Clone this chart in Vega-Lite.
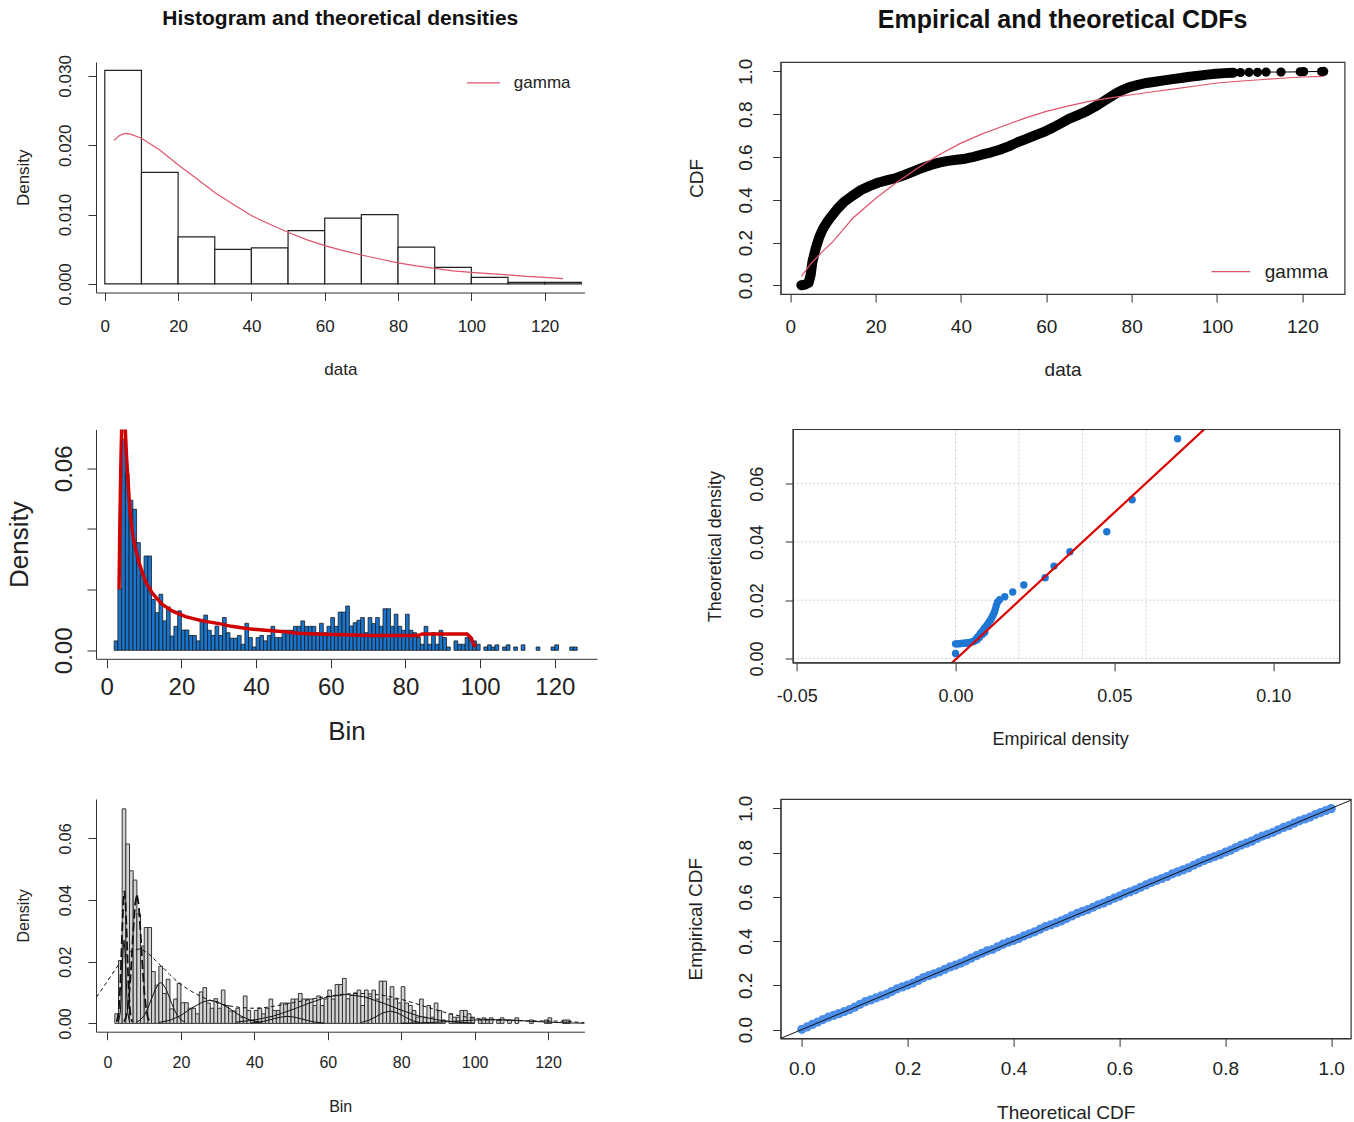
{
"$schema": "https://vega.github.io/schema/vega-lite/v6.json",
"background": "white",
"padding": {"left": 6, "top": 7, "right": 2, "bottom": 0},
"config": {
 "view": {"stroke": null},
 "font": "Liberation Sans",
 "axis": {"domainColor": "#333", "tickColor": "#333", "labelColor": "#222", "titleColor": "#222", "grid": false, "labelFont": "Liberation Sans", "titleFont": "Liberation Sans", "titleFontWeight": "normal", "labelOverlap": false, "labelFlush": false, "labelBound": false, "domainWidth": 1, "tickWidth": 1},
 "title": {"font": "Liberation Sans", "fontWeight": "bold", "color": "#111", "anchor": "middle"}
},
"datasets": {
 "hist10": [{"lo":0,"hi":10,"d":0.0308},{"lo":10,"hi":20,"d":0.0161},{"lo":20,"hi":30,"d":0.0068},{"lo":30,"hi":40,"d":0.0050},{"lo":40,"hi":50,"d":0.0052},{"lo":50,"hi":60,"d":0.0077},{"lo":60,"hi":70,"d":0.0095},{"lo":70,"hi":80,"d":0.0100},{"lo":80,"hi":90,"d":0.0053},{"lo":90,"hi":100,"d":0.0024},{"lo":100,"hi":110,"d":0.00096},{"lo":110,"hi":120,"d":0.00024},{"lo":120,"hi":130,"d":0.00024}],
 "gpdf": [{"x":2.5,"y":0.0207},{"x":4,"y":0.0214},{"x":5.5,"y":0.0217},{"x":7,"y":0.0216},{"x":10,"y":0.0210},{"x":15,"y":0.0193},{"x":20,"y":0.0172},{"x":25,"y":0.0152},{"x":30,"y":0.0132},{"x":35,"y":0.0115},{"x":40,"y":0.00986},{"x":45,"y":0.0086},{"x":50,"y":0.00745},{"x":55,"y":0.0064},{"x":60,"y":0.00553},{"x":65,"y":0.0048},{"x":70,"y":0.00418},{"x":75,"y":0.0036},{"x":80,"y":0.00303},{"x":85,"y":0.0026},{"x":90,"y":0.00226},{"x":95,"y":0.0019},{"x":100,"y":0.00168},{"x":105,"y":0.0015},{"x":110,"y":0.0013},{"x":115,"y":0.0011},{"x":120,"y":0.00096},{"x":125,"y":0.00077}],
 "bins": [{"lo":2,"hi":3,"d":0.0031},{"lo":3,"hi":4,"d":0.0204},{"lo":4,"hi":5,"d":0.0696},{"lo":5,"hi":6,"d":0.0582},{"lo":6,"hi":7,"d":0.0495},{"lo":7,"hi":8,"d":0.0465},{"lo":8,"hi":9,"d":0.0355},{"lo":9,"hi":10,"d":0.0251},{"lo":10,"hi":11,"d":0.0311},{"lo":11,"hi":12,"d":0.0311},{"lo":12,"hi":13,"d":0.0168},{"lo":13,"hi":14,"d":0.0124},{"lo":14,"hi":15,"d":0.0185},{"lo":15,"hi":16,"d":0.0097},{"lo":16,"hi":17,"d":0.0143},{"lo":17,"hi":18,"d":0.0047},{"lo":18,"hi":19,"d":0.0079},{"lo":19,"hi":20,"d":0.0130},{"lo":20,"hi":21,"d":0.0067},{"lo":21,"hi":22,"d":0.0067},{"lo":22,"hi":23,"d":0.0049},{"lo":23,"hi":24,"d":0.0049},{"lo":24,"hi":25,"d":0.0031},{"lo":25,"hi":26,"d":0.0102},{"lo":26,"hi":27,"d":0.0116},{"lo":27,"hi":28,"d":0.0066},{"lo":28,"hi":29,"d":0.0049},{"lo":29,"hi":30,"d":0.0080},{"lo":30,"hi":31,"d":0.0049},{"lo":31,"hi":32,"d":0.0108},{"lo":32,"hi":33,"d":0.0058},{"lo":33,"hi":34,"d":0.0040},{"lo":34,"hi":35,"d":0.0040},{"lo":35,"hi":36,"d":0.0049},{"lo":36,"hi":37,"d":0.0020},{"lo":37,"hi":38,"d":0.0089},{"lo":38,"hi":39,"d":0.0042},{"lo":39,"hi":40,"d":0.0011},{"lo":40,"hi":41,"d":0.0042},{"lo":41,"hi":42,"d":0.0049},{"lo":42,"hi":43,"d":0.0031},{"lo":43,"hi":44,"d":0.0049},{"lo":44,"hi":45,"d":0.0079},{"lo":45,"hi":46,"d":0.0042},{"lo":46,"hi":47,"d":0.0042},{"lo":47,"hi":48,"d":0.0066},{"lo":48,"hi":49,"d":0.0066},{"lo":49,"hi":50,"d":0.0066},{"lo":50,"hi":51,"d":0.0079},{"lo":51,"hi":52,"d":0.0079},{"lo":52,"hi":53,"d":0.0097},{"lo":53,"hi":54,"d":0.0079},{"lo":54,"hi":55,"d":0.0079},{"lo":55,"hi":56,"d":0.0079},{"lo":56,"hi":57,"d":0.0058},{"lo":57,"hi":58,"d":0.0089},{"lo":58,"hi":59,"d":0.0058},{"lo":59,"hi":60,"d":0.0079},{"lo":60,"hi":61,"d":0.0108},{"lo":61,"hi":62,"d":0.0079},{"lo":62,"hi":63,"d":0.0126},{"lo":63,"hi":64,"d":0.0126},{"lo":64,"hi":65,"d":0.0146},{"lo":65,"hi":66,"d":0.0080},{"lo":66,"hi":67,"d":0.0091},{"lo":67,"hi":68,"d":0.0099},{"lo":68,"hi":69,"d":0.0108},{"lo":69,"hi":70,"d":0.0058},{"lo":70,"hi":71,"d":0.0108},{"lo":71,"hi":72,"d":0.0088},{"lo":72,"hi":73,"d":0.0108},{"lo":73,"hi":74,"d":0.0079},{"lo":74,"hi":75,"d":0.0137},{"lo":75,"hi":76,"d":0.0137},{"lo":76,"hi":77,"d":0.0079},{"lo":77,"hi":78,"d":0.0119},{"lo":78,"hi":79,"d":0.0079},{"lo":79,"hi":80,"d":0.0066},{"lo":80,"hi":81,"d":0.0119},{"lo":81,"hi":82,"d":0.0066},{"lo":82,"hi":83,"d":0.0058},{"lo":83,"hi":84,"d":0.0042},{"lo":84,"hi":85,"d":0.0020},{"lo":85,"hi":86,"d":0.0079},{"lo":86,"hi":87,"d":0.0020},{"lo":87,"hi":88,"d":0.0058},{"lo":88,"hi":89,"d":0.0020},{"lo":89,"hi":90,"d":0.0066},{"lo":90,"hi":91,"d":0.0042},{"lo":91,"hi":92,"d":0.0011},{"lo":93,"hi":94,"d":0.0031},{"lo":94,"hi":95,"d":0.0020},{"lo":95,"hi":96,"d":0.0020},{"lo":96,"hi":97,"d":0.0042},{"lo":97,"hi":98,"d":0.0042},{"lo":98,"hi":99,"d":0.0031},{"lo":99,"hi":100,"d":0.0020},{"lo":101,"hi":102,"d":0.0011},{"lo":102,"hi":103,"d":0.0018},{"lo":103,"hi":104,"d":0.0011},{"lo":104,"hi":105,"d":0.0018},{"lo":106,"hi":107,"d":0.0011},{"lo":107,"hi":108,"d":0.0018},{"lo":109,"hi":110,"d":0.0011},{"lo":111,"hi":112,"d":0.0018},{"lo":115,"hi":116,"d":0.0011},{"lo":119,"hi":120,"d":0.0011},{"lo":120,"hi":121,"d":0.0018},{"lo":124,"hi":125,"d":0.0011},{"lo":125,"hi":126,"d":0.0011}],
 "fitline": [{"x":3.3,"y":0.0201},{"x":3.5,"y":0.040},{"x":3.8,"y":0.062},{"x":4.1,"y":0.078},{"x":4.6,"y":0.082},{"x":5.0,"y":0.072},{"x":5.3,"y":0.064},{"x":5.6,"y":0.058},{"x":6.2,"y":0.046},{"x":7.1,"y":0.037},{"x":8.5,"y":0.0295},{"x":10.3,"y":0.0229},{"x":12.1,"y":0.019},{"x":14.8,"y":0.0152},{"x":17.5,"y":0.013},{"x":21.1,"y":0.0111},{"x":25.6,"y":0.0097},{"x":30.1,"y":0.0088},{"x":33.4,"y":0.0079},{"x":37.9,"y":0.0071},{"x":42.4,"y":0.0066},{"x":46.9,"y":0.0062},{"x":51.4,"y":0.0056},{"x":55.9,"y":0.0054},{"x":60.4,"y":0.0052},{"x":64,"y":0.0051},{"x":70,"y":0.0049},{"x":83.5,"y":0.0049},{"x":84.5,"y":0.0054},{"x":96.5,"y":0.0054},{"x":97.5,"y":0.0042},{"x":98.3,"y":0.0020},{"x":98.7,"y":0.0011}],
 "ecdf": [{"x":2.6,"y":0.001},{"x":3.5,"y":0.004},{"x":4.3,"y":0.012},{"x":4.8,"y":0.05},{"x":5.2,"y":0.11},{"x":6,"y":0.175},{"x":6.8,"y":0.225},{"x":7.6,"y":0.262},{"x":8.5,"y":0.292},{"x":9.6,"y":0.322},{"x":11,"y":0.357},{"x":12.6,"y":0.39},{"x":14.5,"y":0.418},{"x":16.7,"y":0.447},{"x":18.7,"y":0.465},{"x":20.7,"y":0.481},{"x":22.8,"y":0.492},{"x":24.8,"y":0.502},{"x":26.8,"y":0.516},{"x":28.9,"y":0.533},{"x":30.9,"y":0.549},{"x":32.9,"y":0.563},{"x":34.9,"y":0.574},{"x":36.9,"y":0.582},{"x":39,"y":0.587},{"x":41,"y":0.592},{"x":43,"y":0.601},{"x":45.1,"y":0.612},{"x":47.1,"y":0.622},{"x":49.1,"y":0.634},{"x":51.2,"y":0.65},{"x":53.2,"y":0.668},{"x":55.2,"y":0.684},{"x":57.2,"y":0.70},{"x":59.3,"y":0.716},{"x":61.3,"y":0.735},{"x":63.3,"y":0.756},{"x":65.3,"y":0.778},{"x":67.4,"y":0.796},{"x":69.4,"y":0.813},{"x":71.4,"y":0.835},{"x":73.4,"y":0.86},{"x":75,"y":0.88},{"x":76.5,"y":0.899},{"x":78,"y":0.914},{"x":79.5,"y":0.927},{"x":81.5,"y":0.937},{"x":83.5,"y":0.946},{"x":85.5,"y":0.952},{"x":87.6,"y":0.958},{"x":89.6,"y":0.964},{"x":91.6,"y":0.969},{"x":93.6,"y":0.975},{"x":95.7,"y":0.98},{"x":97.7,"y":0.985},{"x":99.7,"y":0.989},{"x":101.8,"y":0.992},{"x":103.8,"y":0.994}],
 "ecdftail": [{"x":103.8,"y":0.994},{"x":105.5,"y":0.995},{"x":107.5,"y":0.996},{"x":109.5,"y":0.996},{"x":111.5,"y":0.997},{"x":115,"y":0.997},{"x":119.5,"y":0.998},{"x":120.3,"y":0.999},{"x":124.5,"y":0.9995},{"x":125,"y":1.0}],
 "gcdf": [{"x":2.6,"y":0.042},{"x":5,"y":0.105},{"x":7.6,"y":0.159},{"x":10,"y":0.205},{"x":14.7,"y":0.315},{"x":20.2,"y":0.41},{"x":25,"y":0.482},{"x":30,"y":0.55},{"x":34.9,"y":0.611},{"x":40,"y":0.665},{"x":45,"y":0.708},{"x":50.1,"y":0.746},{"x":55,"y":0.782},{"x":60,"y":0.813},{"x":65,"y":0.838},{"x":70,"y":0.86},{"x":75,"y":0.876},{"x":80,"y":0.891},{"x":85,"y":0.905},{"x":90,"y":0.918},{"x":95,"y":0.932},{"x":100,"y":0.946},{"x":105,"y":0.954},{"x":110,"y":0.961},{"x":115,"y":0.968},{"x":120,"y":0.974},{"x":125,"y":0.977}],
 "qq": [{"x":0.0699,"y":0.0754},{"x":0.0556,"y":0.0545},{"x":0.0476,"y":0.0435},{"x":0.0360,"y":0.0366},{"x":0.0310,"y":0.0317},{"x":0.0282,"y":0.0277},{"x":0.0215,"y":0.0252},{"x":0.0180,"y":0.0228},{"x":0.0155,"y":0.0212},{"x":0.0139,"y":0.0202},{"x":0.0132,"y":0.0193},{"x":0.0128,"y":0.0180},{"x":0.0125,"y":0.0168},{"x":0.0122,"y":0.0158},{"x":0.0118,"y":0.0148},{"x":0.0114,"y":0.0140},{"x":0.0110,"y":0.0132},{"x":0.0105,"y":0.0124},{"x":0.0100,"y":0.0116},{"x":0.0096,"y":0.0110},{"x":0.0091,"y":0.0104},{"x":0.0087,"y":0.0097},{"x":0.0083,"y":0.0091},{"x":0.0079,"y":0.0087},{"x":0.0076,"y":0.0081},{"x":0.0072,"y":0.0076},{"x":0.0068,"y":0.0071},{"x":0.0065,"y":0.0066},{"x":0.0062,"y":0.0062},{"x":0.0058,"y":0.0059},{"x":0.0055,"y":0.0058},{"x":0.0050,"y":0.0056},{"x":0.0045,"y":0.0055},{"x":0.0040,"y":0.0054},{"x":0.0035,"y":0.0053},{"x":0.0030,"y":0.0052},{"x":0.0025,"y":0.0052},{"x":0.0020,"y":0.0051},{"x":0.0015,"y":0.0051},{"x":0.0010,"y":0.0050},{"x":0.0005,"y":0.0050},{"x":0.0000,"y":0.0050},{"x":0.0000,"y":0.0017},{"x":0.0085,"y":0.0083},{"x":0.0092,"y":0.0090},{"x":0.0075,"y":0.0072},{"x":0.0068,"y":0.0064}],
 "pp": [{"x":0.00,"y":0.001},{"x":0.01,"y":0.012},{"x":0.02,"y":0.023},{"x":0.03,"y":0.034},{"x":0.04,"y":0.045},{"x":0.05,"y":0.056},{"x":0.06,"y":0.064},{"x":0.07,"y":0.072},{"x":0.08,"y":0.081},{"x":0.09,"y":0.090},{"x":0.10,"y":0.101},{"x":0.11,"y":0.114},{"x":0.12,"y":0.126},{"x":0.13,"y":0.134},{"x":0.14,"y":0.143},{"x":0.15,"y":0.152},{"x":0.16,"y":0.160},{"x":0.17,"y":0.172},{"x":0.18,"y":0.184},{"x":0.19,"y":0.193},{"x":0.20,"y":0.201},{"x":0.21,"y":0.210},{"x":0.22,"y":0.222},{"x":0.23,"y":0.235},{"x":0.24,"y":0.244},{"x":0.25,"y":0.252},{"x":0.26,"y":0.261},{"x":0.27,"y":0.272},{"x":0.28,"y":0.283},{"x":0.29,"y":0.291},{"x":0.30,"y":0.300},{"x":0.31,"y":0.311},{"x":0.32,"y":0.323},{"x":0.33,"y":0.334},{"x":0.34,"y":0.345},{"x":0.35,"y":0.356},{"x":0.36,"y":0.362},{"x":0.37,"y":0.374},{"x":0.38,"y":0.386},{"x":0.39,"y":0.395},{"x":0.40,"y":0.403},{"x":0.41,"y":0.412},{"x":0.42,"y":0.424},{"x":0.43,"y":0.433},{"x":0.44,"y":0.442},{"x":0.45,"y":0.454},{"x":0.46,"y":0.465},{"x":0.47,"y":0.473},{"x":0.48,"y":0.482},{"x":0.49,"y":0.491},{"x":0.50,"y":0.502},{"x":0.51,"y":0.514},{"x":0.52,"y":0.525},{"x":0.53,"y":0.534},{"x":0.54,"y":0.542},{"x":0.55,"y":0.553},{"x":0.56,"y":0.564},{"x":0.57,"y":0.572},{"x":0.58,"y":0.583},{"x":0.59,"y":0.594},{"x":0.60,"y":0.603},{"x":0.61,"y":0.615},{"x":0.62,"y":0.623},{"x":0.63,"y":0.632},{"x":0.64,"y":0.643},{"x":0.65,"y":0.654},{"x":0.66,"y":0.665},{"x":0.67,"y":0.674},{"x":0.68,"y":0.683},{"x":0.69,"y":0.692},{"x":0.70,"y":0.704},{"x":0.71,"y":0.713},{"x":0.72,"y":0.722},{"x":0.73,"y":0.731},{"x":0.74,"y":0.743},{"x":0.75,"y":0.754},{"x":0.76,"y":0.765},{"x":0.77,"y":0.774},{"x":0.78,"y":0.782},{"x":0.79,"y":0.791},{"x":0.80,"y":0.802},{"x":0.81,"y":0.811},{"x":0.82,"y":0.823},{"x":0.83,"y":0.834},{"x":0.84,"y":0.843},{"x":0.85,"y":0.852},{"x":0.86,"y":0.864},{"x":0.87,"y":0.875},{"x":0.88,"y":0.883},{"x":0.89,"y":0.892},{"x":0.90,"y":0.903},{"x":0.91,"y":0.914},{"x":0.92,"y":0.922},{"x":0.93,"y":0.933},{"x":0.94,"y":0.944},{"x":0.95,"y":0.952},{"x":0.96,"y":0.961},{"x":0.97,"y":0.972},{"x":0.98,"y":0.981},{"x":0.99,"y":0.990},{"x":1.00,"y":0.999}],
 "mix": [
  {"id":"s1","kind":"solid","x":3,"y":0.0003},{"id":"s1","kind":"solid","x":3.5,"y":0.0037},{"id":"s1","kind":"solid","x":4,"y":0.0164},{"id":"s1","kind":"solid","x":4.25,"y":0.0238},{"id":"s1","kind":"solid","x":4.5,"y":0.027},{"id":"s1","kind":"solid","x":4.75,"y":0.0238},{"id":"s1","kind":"solid","x":5,"y":0.0164},{"id":"s1","kind":"solid","x":5.5,"y":0.0037},{"id":"s1","kind":"solid","x":6,"y":0.0003},
  {"id":"l1","kind":"long","x":2.5,"y":0.0005},{"id":"l1","kind":"long","x":3,"y":0.0032},{"id":"l1","kind":"long","x":3.5,"y":0.0125},{"id":"l1","kind":"long","x":4,"y":0.0298},{"id":"l1","kind":"long","x":4.3,"y":0.0392},{"id":"l1","kind":"long","x":4.6,"y":0.043},{"id":"l1","kind":"long","x":4.9,"y":0.0392},{"id":"l1","kind":"long","x":5.2,"y":0.0298},{"id":"l1","kind":"long","x":5.7,"y":0.0125},{"id":"l1","kind":"long","x":6.2,"y":0.0032},{"id":"l1","kind":"long","x":6.7,"y":0.0005},
  {"id":"l2","kind":"long","x":4.5,"y":0.0006},{"id":"l2","kind":"long","x":5,"y":0.0018},{"id":"l2","kind":"long","x":5.5,"y":0.0048},{"id":"l2","kind":"long","x":6,"y":0.0105},{"id":"l2","kind":"long","x":6.5,"y":0.0192},{"id":"l2","kind":"long","x":7,"y":0.0297},{"id":"l2","kind":"long","x":7.5,"y":0.0385},{"id":"l2","kind":"long","x":8,"y":0.042},{"id":"l2","kind":"long","x":8.5,"y":0.0385},{"id":"l2","kind":"long","x":9,"y":0.0297},{"id":"l2","kind":"long","x":9.5,"y":0.0192},{"id":"l2","kind":"long","x":10,"y":0.0105},{"id":"l2","kind":"long","x":10.5,"y":0.0048},{"id":"l2","kind":"long","x":11,"y":0.0018},{"id":"l2","kind":"long","x":11.5,"y":0.0006},
  {"id":"s2","kind":"solid","x":8,"y":0.00045},{"id":"s2","kind":"solid","x":9,"y":0.00117},{"id":"s2","kind":"solid","x":10,"y":0.0026},{"id":"s2","kind":"solid","x":11,"y":0.00495},{"id":"s2","kind":"solid","x":12,"y":0.008},{"id":"s2","kind":"solid","x":13,"y":0.011},{"id":"s2","kind":"solid","x":14,"y":0.0129},{"id":"s2","kind":"solid","x":14.5,"y":0.0132},{"id":"s2","kind":"solid","x":15,"y":0.0129},{"id":"s2","kind":"solid","x":16,"y":0.011},{"id":"s2","kind":"solid","x":17,"y":0.008},{"id":"s2","kind":"solid","x":18,"y":0.00495},{"id":"s2","kind":"solid","x":19,"y":0.0026},{"id":"s2","kind":"solid","x":20,"y":0.00117},{"id":"s2","kind":"solid","x":21,"y":0.00045},
  {"id":"s3","kind":"solid","x":14,"y":0.0003},{"id":"s3","kind":"solid","x":17,"y":0.001},{"id":"s3","kind":"solid","x":20,"y":0.0026},{"id":"s3","kind":"solid","x":23,"y":0.005},{"id":"s3","kind":"solid","x":26,"y":0.007},{"id":"s3","kind":"solid","x":28,"y":0.0075},{"id":"s3","kind":"solid","x":30,"y":0.007},{"id":"s3","kind":"solid","x":33,"y":0.005},{"id":"s3","kind":"solid","x":36,"y":0.0026},{"id":"s3","kind":"solid","x":39,"y":0.001},{"id":"s3","kind":"solid","x":42,"y":0.0003},
  {"id":"s4","kind":"solid","x":39,"y":0.0001},{"id":"s4","kind":"solid","x":42,"y":0.0005},{"id":"s4","kind":"solid","x":45,"y":0.0014},{"id":"s4","kind":"solid","x":47,"y":0.002},{"id":"s4","kind":"solid","x":49,"y":0.0023},{"id":"s4","kind":"solid","x":51,"y":0.002},{"id":"s4","kind":"solid","x":53,"y":0.0014},{"id":"s4","kind":"solid","x":56,"y":0.0005},{"id":"s4","kind":"solid","x":59,"y":0.0001},
  {"id":"s5","kind":"solid","x":35,"y":0.0004},{"id":"s5","kind":"solid","x":40,"y":0.0011},{"id":"s5","kind":"solid","x":45,"y":0.0023},{"id":"s5","kind":"solid","x":50,"y":0.0043},{"id":"s5","kind":"solid","x":55,"y":0.0066},{"id":"s5","kind":"solid","x":60,"y":0.0086},{"id":"s5","kind":"solid","x":65,"y":0.0094},{"id":"s5","kind":"solid","x":70,"y":0.0086},{"id":"s5","kind":"solid","x":75,"y":0.0066},{"id":"s5","kind":"solid","x":80,"y":0.0043},{"id":"s5","kind":"solid","x":85,"y":0.0023},{"id":"s5","kind":"solid","x":90,"y":0.0011},{"id":"s5","kind":"solid","x":95,"y":0.0004},{"id":"s5","kind":"solid","x":100,"y":0.0001},
  {"id":"s6","kind":"solid","x":69,"y":0.0003},{"id":"s6","kind":"solid","x":71,"y":0.0009},{"id":"s6","kind":"solid","x":73,"y":0.0021},{"id":"s6","kind":"solid","x":75,"y":0.0034},{"id":"s6","kind":"solid","x":77,"y":0.004},{"id":"s6","kind":"solid","x":79,"y":0.0034},{"id":"s6","kind":"solid","x":81,"y":0.0021},{"id":"s6","kind":"solid","x":83,"y":0.0009},{"id":"s6","kind":"solid","x":85,"y":0.0003},
  {"id":"s7","kind":"solid","x":80,"y":0.00005},{"id":"s7","kind":"solid","x":85,"y":0.00016},{"id":"s7","kind":"solid","x":90,"y":0.0004},{"id":"s7","kind":"solid","x":95,"y":0.0007},{"id":"s7","kind":"solid","x":100,"y":0.0011},{"id":"s7","kind":"solid","x":105,"y":0.0012},{"id":"s7","kind":"solid","x":110,"y":0.0011},{"id":"s7","kind":"solid","x":115,"y":0.0007},{"id":"s7","kind":"solid","x":120,"y":0.0004},{"id":"s7","kind":"solid","x":125,"y":0.00016},{"id":"s7","kind":"solid","x":130,"y":0.00005},
  {"id":"all","kind":"short","x":-3,"y":0.0085},{"id":"all","kind":"short","x":-1,"y":0.012},{"id":"all","kind":"short","x":1,"y":0.0155},{"id":"all","kind":"short","x":3,"y":0.019},{"id":"all","kind":"short","x":5,"y":0.0222},{"id":"all","kind":"short","x":7,"y":0.0238},{"id":"all","kind":"short","x":9,"y":0.0242},{"id":"all","kind":"short","x":11,"y":0.0228},{"id":"all","kind":"short","x":13,"y":0.0205},{"id":"all","kind":"short","x":15,"y":0.0182},{"id":"all","kind":"short","x":17,"y":0.0158},{"id":"all","kind":"short","x":19,"y":0.0135},{"id":"all","kind":"short","x":21,"y":0.0118},{"id":"all","kind":"short","x":23,"y":0.0103},{"id":"all","kind":"short","x":25,"y":0.0090},{"id":"all","kind":"short","x":27,"y":0.0079},{"id":"all","kind":"short","x":30,"y":0.0066},{"id":"all","kind":"short","x":33,"y":0.0057},{"id":"all","kind":"short","x":36,"y":0.0052},{"id":"all","kind":"short","x":39,"y":0.0049},{"id":"all","kind":"short","x":42,"y":0.0050},{"id":"all","kind":"short","x":45,"y":0.0055},{"id":"all","kind":"short","x":48,"y":0.0061},{"id":"all","kind":"short","x":51,"y":0.0068},{"id":"all","kind":"short","x":54,"y":0.0075},{"id":"all","kind":"short","x":57,"y":0.0082},{"id":"all","kind":"short","x":60,"y":0.0088},{"id":"all","kind":"short","x":63,"y":0.0093},{"id":"all","kind":"short","x":66,"y":0.0096},{"id":"all","kind":"short","x":69,"y":0.0097},{"id":"all","kind":"short","x":72,"y":0.0095},{"id":"all","kind":"short","x":75,"y":0.0091},{"id":"all","kind":"short","x":78,"y":0.0084},{"id":"all","kind":"short","x":81,"y":0.0075},{"id":"all","kind":"short","x":84,"y":0.0064},{"id":"all","kind":"short","x":87,"y":0.0053},{"id":"all","kind":"short","x":90,"y":0.0042},{"id":"all","kind":"short","x":93,"y":0.0032},{"id":"all","kind":"short","x":96,"y":0.0024},{"id":"all","kind":"short","x":99,"y":0.0018},{"id":"all","kind":"short","x":102,"y":0.0014},{"id":"all","kind":"short","x":106,"y":0.0011},{"id":"all","kind":"short","x":110,"y":0.0009},{"id":"all","kind":"short","x":115,"y":0.0008},{"id":"all","kind":"short","x":120,"y":0.0008},{"id":"all","kind":"short","x":125,"y":0.0007},{"id":"all","kind":"short","x":128,"y":0.0004},{"id":"all","kind":"short","x":131,"y":0.0001}
 ]
},
"columns": 2,
"spacing": {"row": 135.5, "column": 183.6},
"bounds": "flush",
"concat": [
 {
  "width": 488.6, "height": 230.5,
  "title": {"text": "Histogram and theoretical densities", "fontSize": 21, "offset": 26},
  "layer": [
   {"data": {"name": "hist10"}, "mark": {"type": "rect", "fill": "white", "stroke": "#222", "strokeWidth": 1.2},
    "encoding": {
     "x": {"field": "lo", "type": "quantitative", "title": "data", "scale": {"domain": [-2.4, 130.9], "nice": false, "zero": false},
           "axis": {"values": [0,20,40,60,80,100,120], "format": "d", "labelFontSize": 17, "titleFontSize": 17, "tickSize": 8, "labelPadding": 18, "titlePadding": 27}},
     "x2": {"field": "hi"},
     "y": {"field": "d", "type": "quantitative", "title": "Density", "scale": {"domain": [-0.00123, 0.032], "nice": false, "zero": false},
           "axis": {"values": [0,0.005,0.01,0.015,0.02,0.025,0.03], "labelExpr": "round(datum.value*1000) % 10 == 0 ? format(datum.value, '.3f') : ''", "labelAngle": -90, "labelAlign": "center", "labelBaseline": "bottom", "labelFontSize": 17, "titleFontSize": 17, "tickSize": 8, "labelPadding": 14, "titlePadding": 24}},
     "y2": {"datum": 0}}},
   {"data": {"name": "gpdf"}, "mark": {"type": "line", "color": "#DF536B", "strokeWidth": 1.2},
    "encoding": {"x": {"field": "x", "type": "quantitative", "title": "data"}, "y": {"field": "y", "type": "quantitative", "title": "Density"}}},
   {"data": {"values": [{"x": 98.8, "x2": 107.8, "y": 0.029}]}, "mark": {"type": "rule", "color": "#DF536B", "strokeWidth": 1.2},
    "encoding": {"x": {"field": "x", "type": "quantitative", "title": "data"}, "x2": {"field": "x2"}, "y": {"field": "y", "type": "quantitative", "title": "Density"}}},
   {"data": {"values": [{"x": 111.6, "y": 0.029, "t": "gamma"}]}, "mark": {"type": "text", "align": "left", "baseline": "middle", "fontSize": 17, "color": "#222"},
    "encoding": {"x": {"field": "x", "type": "quantitative", "title": "data"}, "y": {"field": "y", "type": "quantitative", "title": "Density"}, "text": {"field": "t"}}}
  ]
 },
 {
  "width": 564, "height": 232,
  "view": {"stroke": "#333", "strokeWidth": 1.2},
  "title": {"text": "Empirical and theoretical CDFs", "fontSize": 25, "offset": 25},
  "layer": [
   {"data": {"name": "ecdf"}, "mark": {"type": "line", "color": "black", "strokeWidth": 10, "strokeCap": "round", "strokeJoin": "round"},
    "encoding": {
     "x": {"field": "x", "type": "quantitative", "title": "data", "scale": {"domain": [-2.25, 129.9], "nice": false, "zero": false},
           "axis": {"values": [0,20,40,60,80,100,120], "format": "d", "labelFontSize": 19, "titleFontSize": 19, "tickSize": 8, "labelPadding": 15, "titlePadding": 24}},
     "y": {"field": "y", "type": "quantitative", "title": "CDF", "scale": {"domain": [-0.04, 1.044], "nice": false, "zero": false},
           "axis": {"values": [0,0.2,0.4,0.6,0.8,1.0], "format": ".1f", "labelAngle": -90, "labelAlign": "center", "labelBaseline": "bottom", "labelFontSize": 19, "titleFontSize": 19, "tickSize": 8, "labelPadding": 17, "titlePadding": 30}}}},
   {"data": {"name": "ecdftail"}, "mark": {"type": "line", "color": "black", "strokeWidth": 1},
    "encoding": {"x": {"field": "x", "type": "quantitative", "title": "data"}, "y": {"field": "y", "type": "quantitative", "title": "CDF"}}},
   {"data": {"name": "ecdftail"}, "mark": {"type": "circle", "color": "black", "size": 85, "opacity": 1},
    "encoding": {"x": {"field": "x", "type": "quantitative", "title": "data"}, "y": {"field": "y", "type": "quantitative", "title": "CDF"}}},
   {"data": {"name": "gcdf"}, "mark": {"type": "line", "color": "#DF536B", "strokeWidth": 1.2},
    "encoding": {"x": {"field": "x", "type": "quantitative", "title": "data"}, "y": {"field": "y", "type": "quantitative", "title": "CDF"}}},
   {"data": {"values": [{"x": 98.7, "x2": 107.8, "y": 0.065}]}, "mark": {"type": "rule", "color": "#DF536B", "strokeWidth": 1.2},
    "encoding": {"x": {"field": "x", "type": "quantitative", "title": "data"}, "x2": {"field": "x2"}, "y": {"field": "y", "type": "quantitative", "title": "CDF"}}},
   {"data": {"values": [{"x": 111.2, "y": 0.065, "t": "gamma"}]}, "mark": {"type": "text", "align": "left", "baseline": "middle", "fontSize": 19, "color": "#222"},
    "encoding": {"x": {"field": "x", "type": "quantitative", "title": "data"}, "y": {"field": "y", "type": "quantitative", "title": "CDF"}, "text": {"field": "t"}}}
  ]
 },
 {
  "width": 501, "height": 229.3,
  "layer": [
   {"data": {"name": "bins"}, "mark": {"type": "rect", "fill": "#1874CD", "stroke": "#1a1a1a", "strokeWidth": 0.8},
    "encoding": {
     "x": {"field": "lo", "type": "quantitative", "title": "Bin", "scale": {"domain": [-2.87, 131.3], "nice": false, "zero": false},
           "axis": {"values": [0,20,40,60,80,100,120], "format": "d", "labelFontSize": 24, "titleFontSize": 26, "tickSize": 9, "labelPadding": 8, "titlePadding": 19}},
     "x2": {"field": "hi"},
     "y": {"field": "d", "type": "quantitative", "title": "Density", "scale": {"domain": [-0.0028, 0.0728], "nice": false, "zero": false},
           "axis": {"values": [0,0.01,0.02,0.03,0.04,0.05,0.06,0.07], "labelExpr": "round(datum.value*100) % 3 == 0 ? format(datum.value, '.2f') : ''", "labelAngle": -90, "labelAlign": "center", "labelBaseline": "bottom", "labelFontSize": 24, "titleFontSize": 26, "tickSize": 9, "labelPadding": 11, "titlePadding": 20}},
     "y2": {"datum": 0}}},
   {"data": {"name": "fitline"}, "mark": {"type": "line", "color": "#D00000", "strokeWidth": 3.5, "clip": true},
    "encoding": {"x": {"field": "x", "type": "quantitative", "title": "Bin"}, "y": {"field": "y", "type": "quantitative", "title": "Density"}}}
  ]
 },
 {
  "width": 559, "height": 233.3,
  "layer": [
   {"data": {"values": [{"x": -0.0511, "x2": 0.1209, "y": -0.0015, "y2": 0.0786}]}, "mark": {"type": "rect", "fill": "white", "stroke": "#333", "strokeWidth": 1.2},
    "encoding": {"x": {"field": "x", "type": "quantitative", "title": "Empirical density", "scale": {"domain": [-0.05507, 0.1209], "nice": false, "zero": false},
           "axis": {"values": [-0.05, 0, 0.05, 0.1], "domain": false, "labelExpr": "replace(format(datum.value, '.2f'), '\u2212', '-')", "labelFontSize": 18, "titleFontSize": 18, "tickSize": 8, "labelPadding": 17, "titlePadding": 25}},
     "x2": {"field": "x2"},
     "y": {"field": "y", "type": "quantitative", "title": "Theoretical density", "scale": {"domain": [-0.0015, 0.0786], "nice": false, "zero": false},
           "axis": {"values": [0, 0.02, 0.04, 0.06], "domain": false, "offset": -12.6, "format": ".2f", "labelAngle": -90, "labelAlign": "center", "labelBaseline": "bottom", "labelFontSize": 18, "titleFontSize": 18, "tickSize": 8, "labelPadding": 19, "titlePadding": 24}},
     "y2": {"field": "y2"}}},
   {"data": {"values": [{"g": 0}, {"g": 0.02}, {"g": 0.04}, {"g": 0.06}]}, "mark": {"type": "rule", "color": "#d0d0d0", "strokeDash": [2, 2]},
    "encoding": {"x": {"field": "g", "type": "quantitative", "title": "Empirical density"}}},
   {"data": {"values": [{"g": 0, "a": -0.0511, "b": 0.1209}, {"g": 0.02, "a": -0.0511, "b": 0.1209}, {"g": 0.04, "a": -0.0511, "b": 0.1209}, {"g": 0.06, "a": -0.0511, "b": 0.1209}]}, "mark": {"type": "rule", "color": "#d0d0d0", "strokeDash": [2, 2]},
    "encoding": {"y": {"field": "g", "type": "quantitative", "title": "Theoretical density"}, "x": {"field": "a", "type": "quantitative", "title": "Empirical density"}, "x2": {"field": "b"}}},
   {"data": {"name": "qq"}, "mark": {"type": "circle", "color": "#1E77D3", "size": 55, "opacity": 1},
    "encoding": {"x": {"field": "x", "type": "quantitative", "title": "Empirical density"}, "y": {"field": "y", "type": "quantitative", "title": "Theoretical density"}}},
   {"data": {"values": [{"x": -0.002, "y": -0.0024}, {"x": 0.08, "y": 0.0804}]}, "mark": {"type": "line", "color": "#DD0000", "strokeWidth": 2.2, "clip": true},
    "encoding": {"x": {"field": "x", "type": "quantitative", "title": "Empirical density"}, "y": {"field": "y", "type": "quantitative", "title": "Theoretical density"}}},
   {"data": {"values": [{"x": -0.0511, "x2": 0.1209, "y": -0.0015, "y2": 0.0786}]}, "mark": {"type": "rect", "fill": null, "fillOpacity": 0, "stroke": "#333", "strokeWidth": 1.2},
    "encoding": {"x": {"field": "x", "type": "quantitative", "title": "Empirical density"}, "x2": {"field": "x2"}, "y": {"field": "y", "type": "quantitative", "title": "Theoretical density"}, "y2": {"field": "y2"}}}
  ]
 },
 {
  "width": 488.4, "height": 232.7,
  "layer": [
   {"data": {"name": "bins"}, "mark": {"type": "rect", "fill": "#D3D3D3", "stroke": "#333", "strokeWidth": 1},
    "encoding": {
     "x": {"field": "lo", "type": "quantitative", "title": "Bin", "scale": {"domain": [-3.13, 129.9], "nice": false, "zero": false},
           "axis": {"values": [0,20,40,60,80,100,120], "format": "d", "labelFontSize": 16, "titleFontSize": 16, "tickSize": 8, "labelPadding": 15, "titlePadding": 28}},
     "x2": {"field": "hi"},
     "y": {"field": "d", "type": "quantitative", "title": "Density", "scale": {"domain": [-0.0027, 0.0728], "nice": false, "zero": false},
           "axis": {"values": [0,0.01,0.02,0.03,0.04,0.05,0.06,0.07], "labelExpr": "round(datum.value*100) % 2 == 0 ? format(datum.value, '.2f') : ''", "labelAngle": -90, "labelAlign": "center", "labelBaseline": "bottom", "labelFontSize": 16, "titleFontSize": 16, "tickSize": 8, "labelPadding": 15, "titlePadding": 26}},
     "y2": {"datum": 0}}},
   {"data": {"name": "mix"}, "transform": [{"filter": "datum.kind == 'solid'"}], "mark": {"type": "line", "color": "#111", "strokeWidth": 1, "clip": true},
    "encoding": {"x": {"field": "x", "type": "quantitative", "title": "Bin"}, "y": {"field": "y", "type": "quantitative", "title": "Density"}, "detail": {"field": "id"}}},
   {"data": {"name": "mix"}, "transform": [{"filter": "datum.kind == 'long'"}], "mark": {"type": "line", "color": "#111", "strokeWidth": 1.8, "strokeDash": [9, 4], "clip": true},
    "encoding": {"x": {"field": "x", "type": "quantitative", "title": "Bin"}, "y": {"field": "y", "type": "quantitative", "title": "Density"}, "detail": {"field": "id"}}},
   {"data": {"name": "mix"}, "transform": [{"filter": "datum.kind == 'short'"}], "mark": {"type": "line", "color": "#111", "strokeWidth": 1, "strokeDash": [4, 3], "clip": true},
    "encoding": {"x": {"field": "x", "type": "quantitative", "title": "Bin"}, "y": {"field": "y", "type": "quantitative", "title": "Density"}, "detail": {"field": "id"}}}
  ]
 },
 {
  "width": 570.2, "height": 239.4,
  "view": {"stroke": "#333", "strokeWidth": 1.2},
  "layer": [
   {"data": {"name": "pp"}, "mark": {"type": "circle", "color": "#4C8EE8", "size": 85, "opacity": 1},
    "encoding": {
     "x": {"field": "x", "type": "quantitative", "title": "Theoretical CDF", "scale": {"domain": [-0.04, 1.037], "nice": false, "zero": false},
           "axis": {"values": [0,0.2,0.4,0.6,0.8,1.0], "format": ".1f", "labelFontSize": 19, "titleFontSize": 19, "tickSize": 8, "labelPadding": 13, "titlePadding": 25}},
     "y": {"field": "y", "type": "quantitative", "title": "Empirical CDF", "scale": {"domain": [-0.04, 1.0425], "nice": false, "zero": false},
           "axis": {"values": [0,0.2,0.4,0.6,0.8,1.0], "format": ".1f", "labelAngle": -90, "labelAlign": "center", "labelBaseline": "bottom", "labelFontSize": 19, "titleFontSize": 19, "tickSize": 8, "labelPadding": 17, "titlePadding": 31}}}},
   {"data": {"values": [{"x": -0.05, "y": -0.05}, {"x": 1.05, "y": 1.05}]}, "mark": {"type": "line", "color": "#111", "strokeWidth": 1, "clip": true},
    "encoding": {"x": {"field": "x", "type": "quantitative", "title": "Theoretical CDF"}, "y": {"field": "y", "type": "quantitative", "title": "Empirical CDF"}}}
  ]
 }
]
}
